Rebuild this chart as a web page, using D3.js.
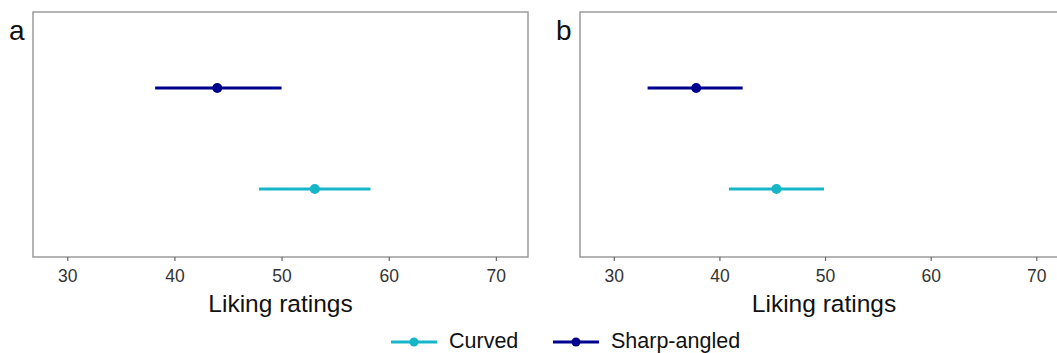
<!DOCTYPE html>
<html>
<head>
<meta charset="utf-8">
<script src="https://cdn.jsdelivr.net/npm/d3@7"></script>
<style>
  body { margin: 0; background: #fff; }
  svg text { font-family: 'Liberation Sans', Arial, sans-serif; }
</style>
</head>
<body>
<div id="chart"></div>
<script>
// data
let groups = ['Sharp-angled', 'Curved']
let panels = ['a', 'b']
let means = { a: [44.0, 53.1], b: [37.8, 45.4] }
let lower = { a: [38.2, 47.9], b: [33.2, 40.9] }
let upper = { a: [50.0, 58.3], b: [42.2, 49.9] }
let xTicks = [30, 40, 50, 60, 70]
let xDomain = [26.8, 73.0]
let colors = { 'Sharp-angled': '#00008f', 'Curved': '#17b5c8' }
let legendOrder = ['Curved', 'Sharp-angled']

let width = 1057
let height = 353
let frameTop = 12
let frameBottom = 257
let panelBox = { a: [33, 528], b: [580, 1068] }

let svg = d3.select('#chart').append('svg')
    .attr('width', width)
    .attr('height', height)

let y = d3.scalePoint()
    .domain(groups)
    .range([88, 189])

panels.forEach(p => {
    let x = d3.scaleLinear()
        .domain(xDomain)
        .range(panelBox[p])
    let g = svg.append('g')

    // frame
    g.append('rect')
        .attr('x', panelBox[p][0])
        .attr('y', frameTop)
        .attr('width', panelBox[p][1] - panelBox[p][0])
        .attr('height', frameBottom - frameTop)
        .attr('fill', 'none')
        .attr('stroke', '#9a9a9a')
        .attr('stroke-width', 1.5)

    // axis
    let axis = g.append('g')
        .attr('transform', `translate(0,${frameBottom})`)
        .call(d3.axisBottom(x).tickValues(xTicks).tickSize(4).tickPadding(9))
    axis.select('.domain').remove()
    axis.selectAll('line').attr('stroke', '#666').attr('stroke-width', 1.2)
    axis.selectAll('text')
        .attr('fill', '#333')
        .style('font-family', "'Liberation Sans', Arial, sans-serif")
        .style('font-size', '17.5px')

    g.append('text')
        .attr('x', (panelBox[p][0] + panelBox[p][1]) / 2)
        .attr('y', 312)
        .attr('text-anchor', 'middle')
        .style('font-size', '24.5px')
        .attr('fill', '#111')
        .text('Liking ratings')

    g.append('text')
        .attr('x', panelBox[p][0] - 24)
        .attr('y', 40)
        .style('font-size', '28px')
        .attr('fill', '#111')
        .text(p)

    // error bars
    groups.forEach((grp, i) => {
        g.append('line')
            .attr('x1', x(lower[p][i]))
            .attr('x2', x(upper[p][i]))
            .attr('y1', y(grp))
            .attr('y2', y(grp))
            .attr('stroke', colors[grp])
            .attr('stroke-width', 3)
        g.append('circle')
            .attr('cx', x(means[p][i]))
            .attr('cy', y(grp))
            .attr('r', 5)
            .attr('fill', colors[grp])
    })
})

// legend
let legendX = [391, 553]
let legend = svg.append('g')
legendOrder.forEach((grp, i) => {
    let lx = legendX[i]
    legend.append('line')
        .attr('x1', lx)
        .attr('x2', lx + 46)
        .attr('y1', 342)
        .attr('y2', 342)
        .attr('stroke', colors[grp])
        .attr('stroke-width', 3)
    legend.append('circle')
        .attr('cx', lx + 23)
        .attr('cy', 342)
        .attr('r', 4.5)
        .attr('fill', colors[grp])
    legend.append('text')
        .attr('x', lx + 58)
        .attr('y', 348)
        .style('font-size', '21.5px')
        .attr('fill', '#111')
        .text(grp)
})
</script>
</body>
</html>
